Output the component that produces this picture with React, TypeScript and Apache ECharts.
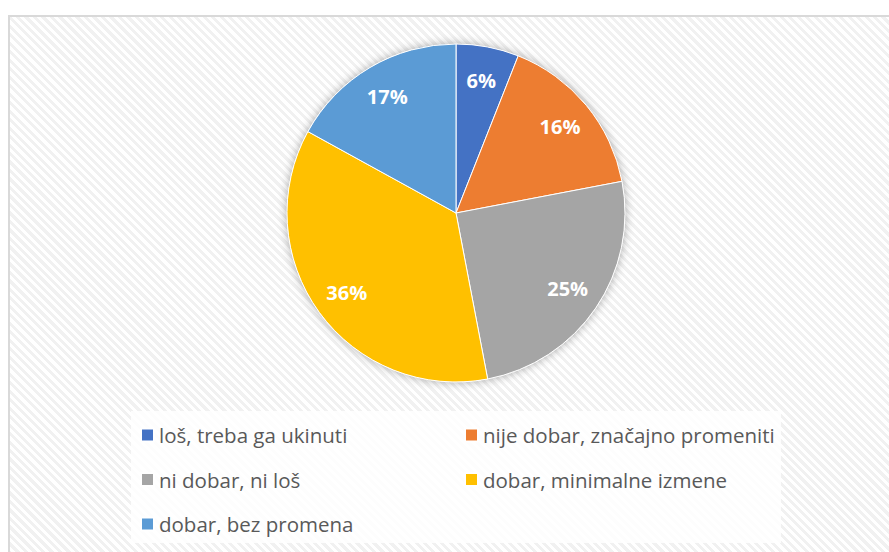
import React, { useEffect, useRef } from "react";
import * as echarts from "echarts";

const categories = [
  "loš, treba ga ukinuti",
  "nije dobar, značajno promeniti",
  "ni dobar, ni loš",
  "dobar, minimalne izmene",
  "dobar, bez promena",
];
const values = [6, 16, 25, 36, 17];
const colors = ["#4472C4", "#ED7D31", "#A5A5A5", "#FFC000", "#5B9BD5"];

const FONT = "'Open Sans', 'Noto Sans', sans-serif";

export default function App() {
  const ref = useRef<HTMLDivElement>(null);

  useEffect(() => {
    if (!ref.current) return;
    const chart = echarts.init(ref.current, undefined, { renderer: "svg" });
    const data = categories.map((name, i) => ({
      name,
      value: values[i],
      itemStyle: { color: colors[i] },
    }));
    const center = [456, 213];
    const R = 169;
    const legendText = {
      fontFamily: FONT,
      fontSize: 20.5,
      color: "#595959",
      lineHeight: 24,
    };
    const legendBase = {
      orient: "vertical",
      top: 423,
      padding: 0,
      itemWidth: 13,
      itemHeight: 13,
      itemGap: 20.5,
      icon: "rect",
      selectedMode: false,
      textStyle: legendText,
    };
    chart.setOption({
      animation: false,
      backgroundColor: "transparent",
      graphic: [
        {
          type: "rect",
          left: 131,
          top: 411,
          shape: { width: 650, height: 132 },
          style: { fill: "rgba(255,255,255,0.85)" },
          z: -1,
        },
      ],
      legend: [
        {
          ...legendBase,
          data: [categories[0], categories[2], categories[4]],
          left: 140,
        },
        {
          ...legendBase,
          data: [categories[1], categories[3]],
          left: 464,
        },
      ],
      series: [
        {
          type: "pie",
          silent: true,
          center,
          radius: [0, R],
          z: 1,
          label: { show: false },
          labelLine: { show: false },
          data: [
            {
              name: "__shadow",
              value: 1,
              itemStyle: {
                color: "#ffffff",
                shadowBlur: 10,
                shadowColor: "rgba(0,0,0,0.35)",
              },
            },
          ],
        },
        {
          type: "pie",
          center,
          radius: [0, R],
          startAngle: 90,
          clockwise: true,
          z: 2,
          itemStyle: { borderColor: "#ffffff", borderWidth: 1 },
          label: { show: false },
          labelLine: { show: false },
          emphasis: { disabled: true },
          data,
        },
        {
          type: "pie",
          silent: true,
          center,
          radius: [95, R],
          startAngle: 90,
          clockwise: true,
          z: 3,
          itemStyle: { color: "transparent", borderWidth: 0 },
          label: {
            show: true,
            position: "inside",
            formatter: "{c}%",
            color: "#ffffff",
            fontFamily: FONT,
            fontWeight: "bold",
            fontSize: 20,
          },
          labelLine: { show: false },
          data: categories.map((name, i) => ({ name, value: values[i] })),
        },
      ],
    });
    return () => chart.dispose();
  }, []);

  return (
    <div
      style={{
        position: "fixed",
        left: 0,
        top: 0,
        width: 889,
        height: 552,
        overflow: "hidden",
        background: "#ffffff",
      }}
    >
      <div
        style={{
          position: "absolute",
          left: 8,
          top: 15,
          width: 1000,
          height: 1000,
          border: "2px solid #d9d9d9",
          background:
            "repeating-linear-gradient(45deg, #ffffff 0px, #ffffff 3px, #f1f1f1 3px, #f1f1f1 6px)",
        }}
      />
      <div
        ref={ref}
        style={{ position: "absolute", left: 0, top: 0, width: 889, height: 552 }}
      />
    </div>
  );
}
